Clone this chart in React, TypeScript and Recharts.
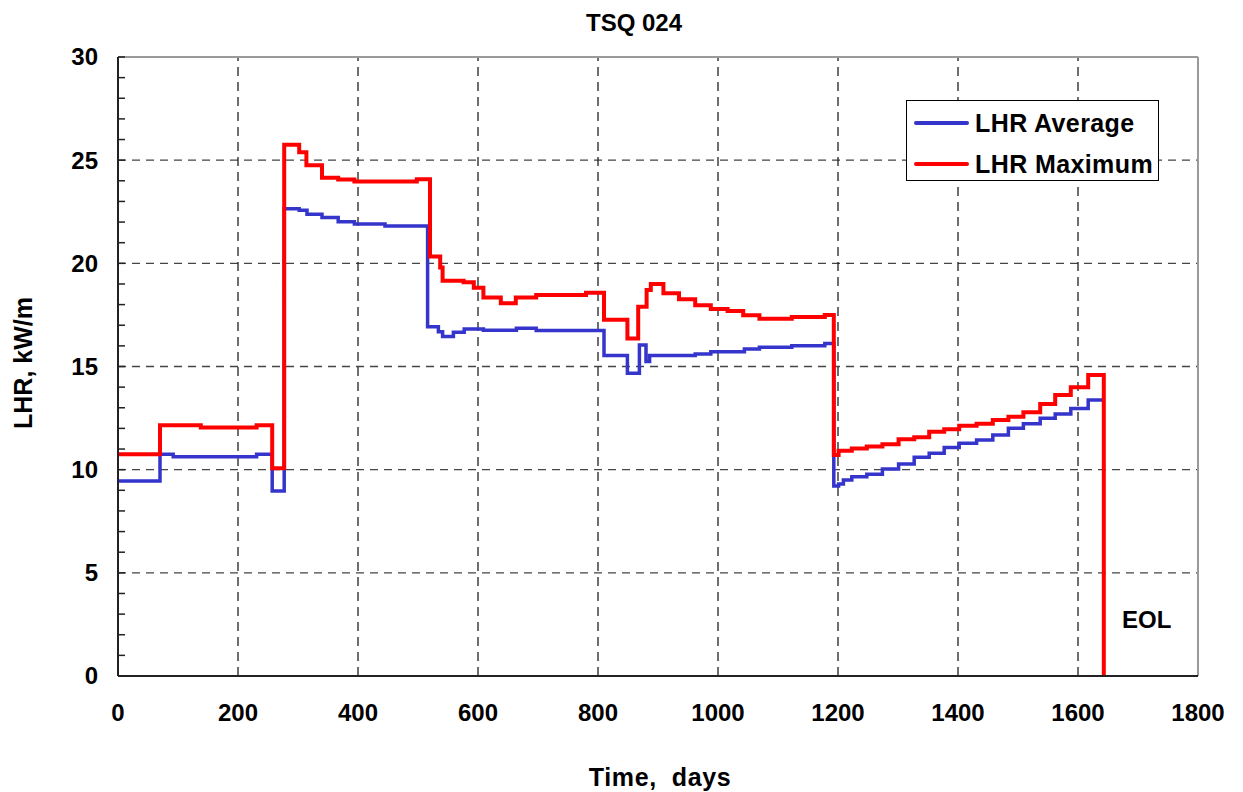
import React from 'react';
import { LineChart, Line, XAxis, YAxis, ReferenceLine, Legend } from 'recharts';

// Step start days / values for LHR Average
const avgDays = [0, 70, 92, 231, 257, 277, 302, 315, 340, 367, 394, 445, 516, 534, 541, 559, 577, 609, 664, 697, 810, 849, 869, 880, 886, 962, 988, 1044, 1069, 1123, 1178, 1193, 1201, 1209, 1223, 1248, 1274, 1301, 1327, 1352, 1377, 1402, 1431, 1458, 1484, 1509, 1537, 1562, 1588, 1617, 1640];
const avgValues = [9.45, 10.75, 10.63, 10.75, 8.97, 22.65, 22.57, 22.38, 22.22, 22.02, 21.91, 21.81, 16.93, 16.69, 16.45, 16.66, 16.82, 16.76, 16.85, 16.74, 15.53, 14.67, 16.04, 15.24, 15.53, 15.61, 15.72, 15.85, 15.93, 16.01, 16.11, 9.21, 9.31, 9.5, 9.66, 9.78, 10.03, 10.28, 10.6, 10.79, 11.08, 11.28, 11.44, 11.68, 12.01, 12.22, 12.49, 12.7, 12.97, 13.38, 13.38];

// Step start days / values for LHR Maximum
const maxDays = [0, 70, 138, 231, 257, 277, 302, 314, 340, 367, 394, 498, 520, 537, 541, 576, 593, 609, 638, 663, 697, 780, 810, 849, 867, 881, 888, 909, 935, 962, 988, 1016, 1042, 1069, 1123, 1178, 1193, 1201, 1223, 1248, 1274, 1301, 1327, 1352, 1377, 1402, 1431, 1458, 1484, 1509, 1537, 1562, 1588, 1617, 1643];
const maxValues = [10.75, 12.15, 12.04, 12.15, 10.07, 25.75, 25.38, 24.75, 24.15, 24.06, 23.97, 24.07, 20.33, 19.8, 19.16, 19.08, 18.82, 18.34, 18.06, 18.34, 18.47, 18.58, 17.26, 16.36, 17.9, 18.71, 19.0, 18.55, 18.26, 17.97, 17.79, 17.69, 17.48, 17.32, 17.4, 17.5, 10.71, 10.92, 11.03, 11.12, 11.23, 11.47, 11.57, 11.84, 11.96, 12.13, 12.23, 12.41, 12.57, 12.78, 13.18, 13.62, 13.99, 14.59, 0];

const xTicks = [0, 200, 400, 600, 800, 1000, 1200, 1400, 1600, 1800];
const yTicks = Array.from({ length: 31 }, (_, i) => i);
const yLabelTicks = [0, 5, 10, 15, 20, 25, 30];
const gridX = [200, 400, 600, 800, 1000, 1200, 1400, 1600];
const gridY = [5, 10, 15, 20, 25];

const seriesNames = ['LHR Average', 'LHR Maximum'];
const seriesColors = ['#3535CC', '#FF0000'];

const avgData = avgDays.map((d, i) => ({ x: d, y: avgValues[i] }));
const maxData = maxDays.map((d, i) => ({ x: d, y: maxValues[i] }));

const FONT = '"Liberation Sans", Arial, Helvetica, sans-serif';

const YTick = (props: any) => {
  const { x, y, payload } = props;
  if (!yLabelTicks.includes(payload.value)) return <g />;
  return (
    <text x={x} y={y} dy="0.35em" textAnchor="end" fontSize={24} fontWeight="bold" fill="#000" fontFamily={FONT}>
      {payload.value}
    </text>
  );
};

const LegendBox = () => (
  <div
    style={{
      width: 251,
      height: 79,
      border: '1px solid #000',
      background: '#fff',
      fontFamily: FONT,
      fontWeight: 'bold',
      fontSize: 25,
      letterSpacing: 0.4,
      color: '#000',
      boxSizing: 'content-box',
    }}
  >
    {seriesNames.map((n, i) => (
      <div key={n} style={{ position: 'absolute', left: 8, top: i === 0 ? 9 : 50, height: 28, display: 'flex', alignItems: 'center' }}>
        <div style={{ width: 55, height: 4, background: seriesColors[i], borderRadius: 2 }} />
        <span style={{ marginLeft: 6, lineHeight: '28px', whiteSpace: 'pre' }}>{n}</span>
      </div>
    ))}
  </div>
);

export default function App() {
  return (
    <div style={{ position: 'absolute', left: 0, top: 0, width: 1243, height: 792, background: '#fff', fontFamily: FONT }}>
      <LineChart width={1243} height={792} data={avgData} margin={{ top: 57, right: 45, bottom: 56, left: 0 }}>
        <XAxis
          type="number"
          dataKey="x"
          domain={[0, 1800]}
          ticks={xTicks}
          interval={0}
          height={60}
          tickLine={false}
          tickSize={0}
          tickMargin={28}
          axisLine={{ stroke: '#222', strokeWidth: 2 }}
          tick={{ fontSize: 24, fontWeight: 'bold', fill: '#000', fontFamily: FONT }}
          allowDataOverflow
        />
        <YAxis
          type="number"
          dataKey="y"
          domain={[0, 30]}
          ticks={yTicks}
          interval={0}
          width={118}
          tickSize={-7}
          tickMargin={27}
          tickLine={{ stroke: '#222', strokeWidth: 1.5 }}
          axisLine={{ stroke: '#222', strokeWidth: 2 }}
          tick={<YTick />}
          allowDataOverflow
        />
        {gridY.map((v) => (
          <ReferenceLine key={'gy' + v} y={v} stroke="#444" strokeWidth={1.3} strokeDasharray="8 6" />
        ))}
        {gridX.map((v) => (
          <ReferenceLine key={'gx' + v} x={v} stroke="#222" strokeWidth={1.3} strokeDasharray="9 6" />
        ))}
        <ReferenceLine y={30} stroke="#9a9a9a" strokeWidth={2} />
        <ReferenceLine x={1800} stroke="#9a9a9a" strokeWidth={2} />
        <Line
          data={avgData}
          dataKey="y"
          type="stepAfter"
          stroke={seriesColors[0]}
          strokeWidth={3.5}
          dot={false}
          activeDot={false}
          isAnimationActive={false}
          name={seriesNames[0]}
        />
        <Line
          data={maxData}
          dataKey="y"
          type="stepAfter"
          stroke={seriesColors[1]}
          strokeWidth={4}
          dot={false}
          activeDot={false}
          isAnimationActive={false}
          name={seriesNames[1]}
        />
        <Legend
          layout="horizontal"
          verticalAlign="middle"
          align="center"
          content={<LegendBox />}
          wrapperStyle={{ left: 906, top: 100, width: 253, height: 81, position: 'absolute' }}
        />
      </LineChart>
      <div style={{ position: 'absolute', left: 634, top: 11, transform: 'translateX(-50%)', fontSize: 24, fontWeight: 'bold', lineHeight: '24px', whiteSpace: 'pre' }}>
        TSQ 024
      </div>
      <div style={{ position: 'absolute', left: 23, top: 363, transform: 'translate(-50%, -50%) rotate(-90deg)', fontSize: 25, fontWeight: 'bold', lineHeight: '25px', whiteSpace: 'pre' }}>
        LHR, kW/m
      </div>
      <div style={{ position: 'absolute', left: 660, top: 777, transform: 'translate(-50%, -50%)', fontSize: 25, fontWeight: 'bold', letterSpacing: 0.6, lineHeight: '25px', whiteSpace: 'pre' }}>
        {'Time,  days'}
      </div>
      <div style={{ position: 'absolute', left: 1122, top: 620, transform: 'translateY(-50%)', fontSize: 24, fontWeight: 'bold', lineHeight: '24px', whiteSpace: 'pre' }}>
        EOL
      </div>
    </div>
  );
}
